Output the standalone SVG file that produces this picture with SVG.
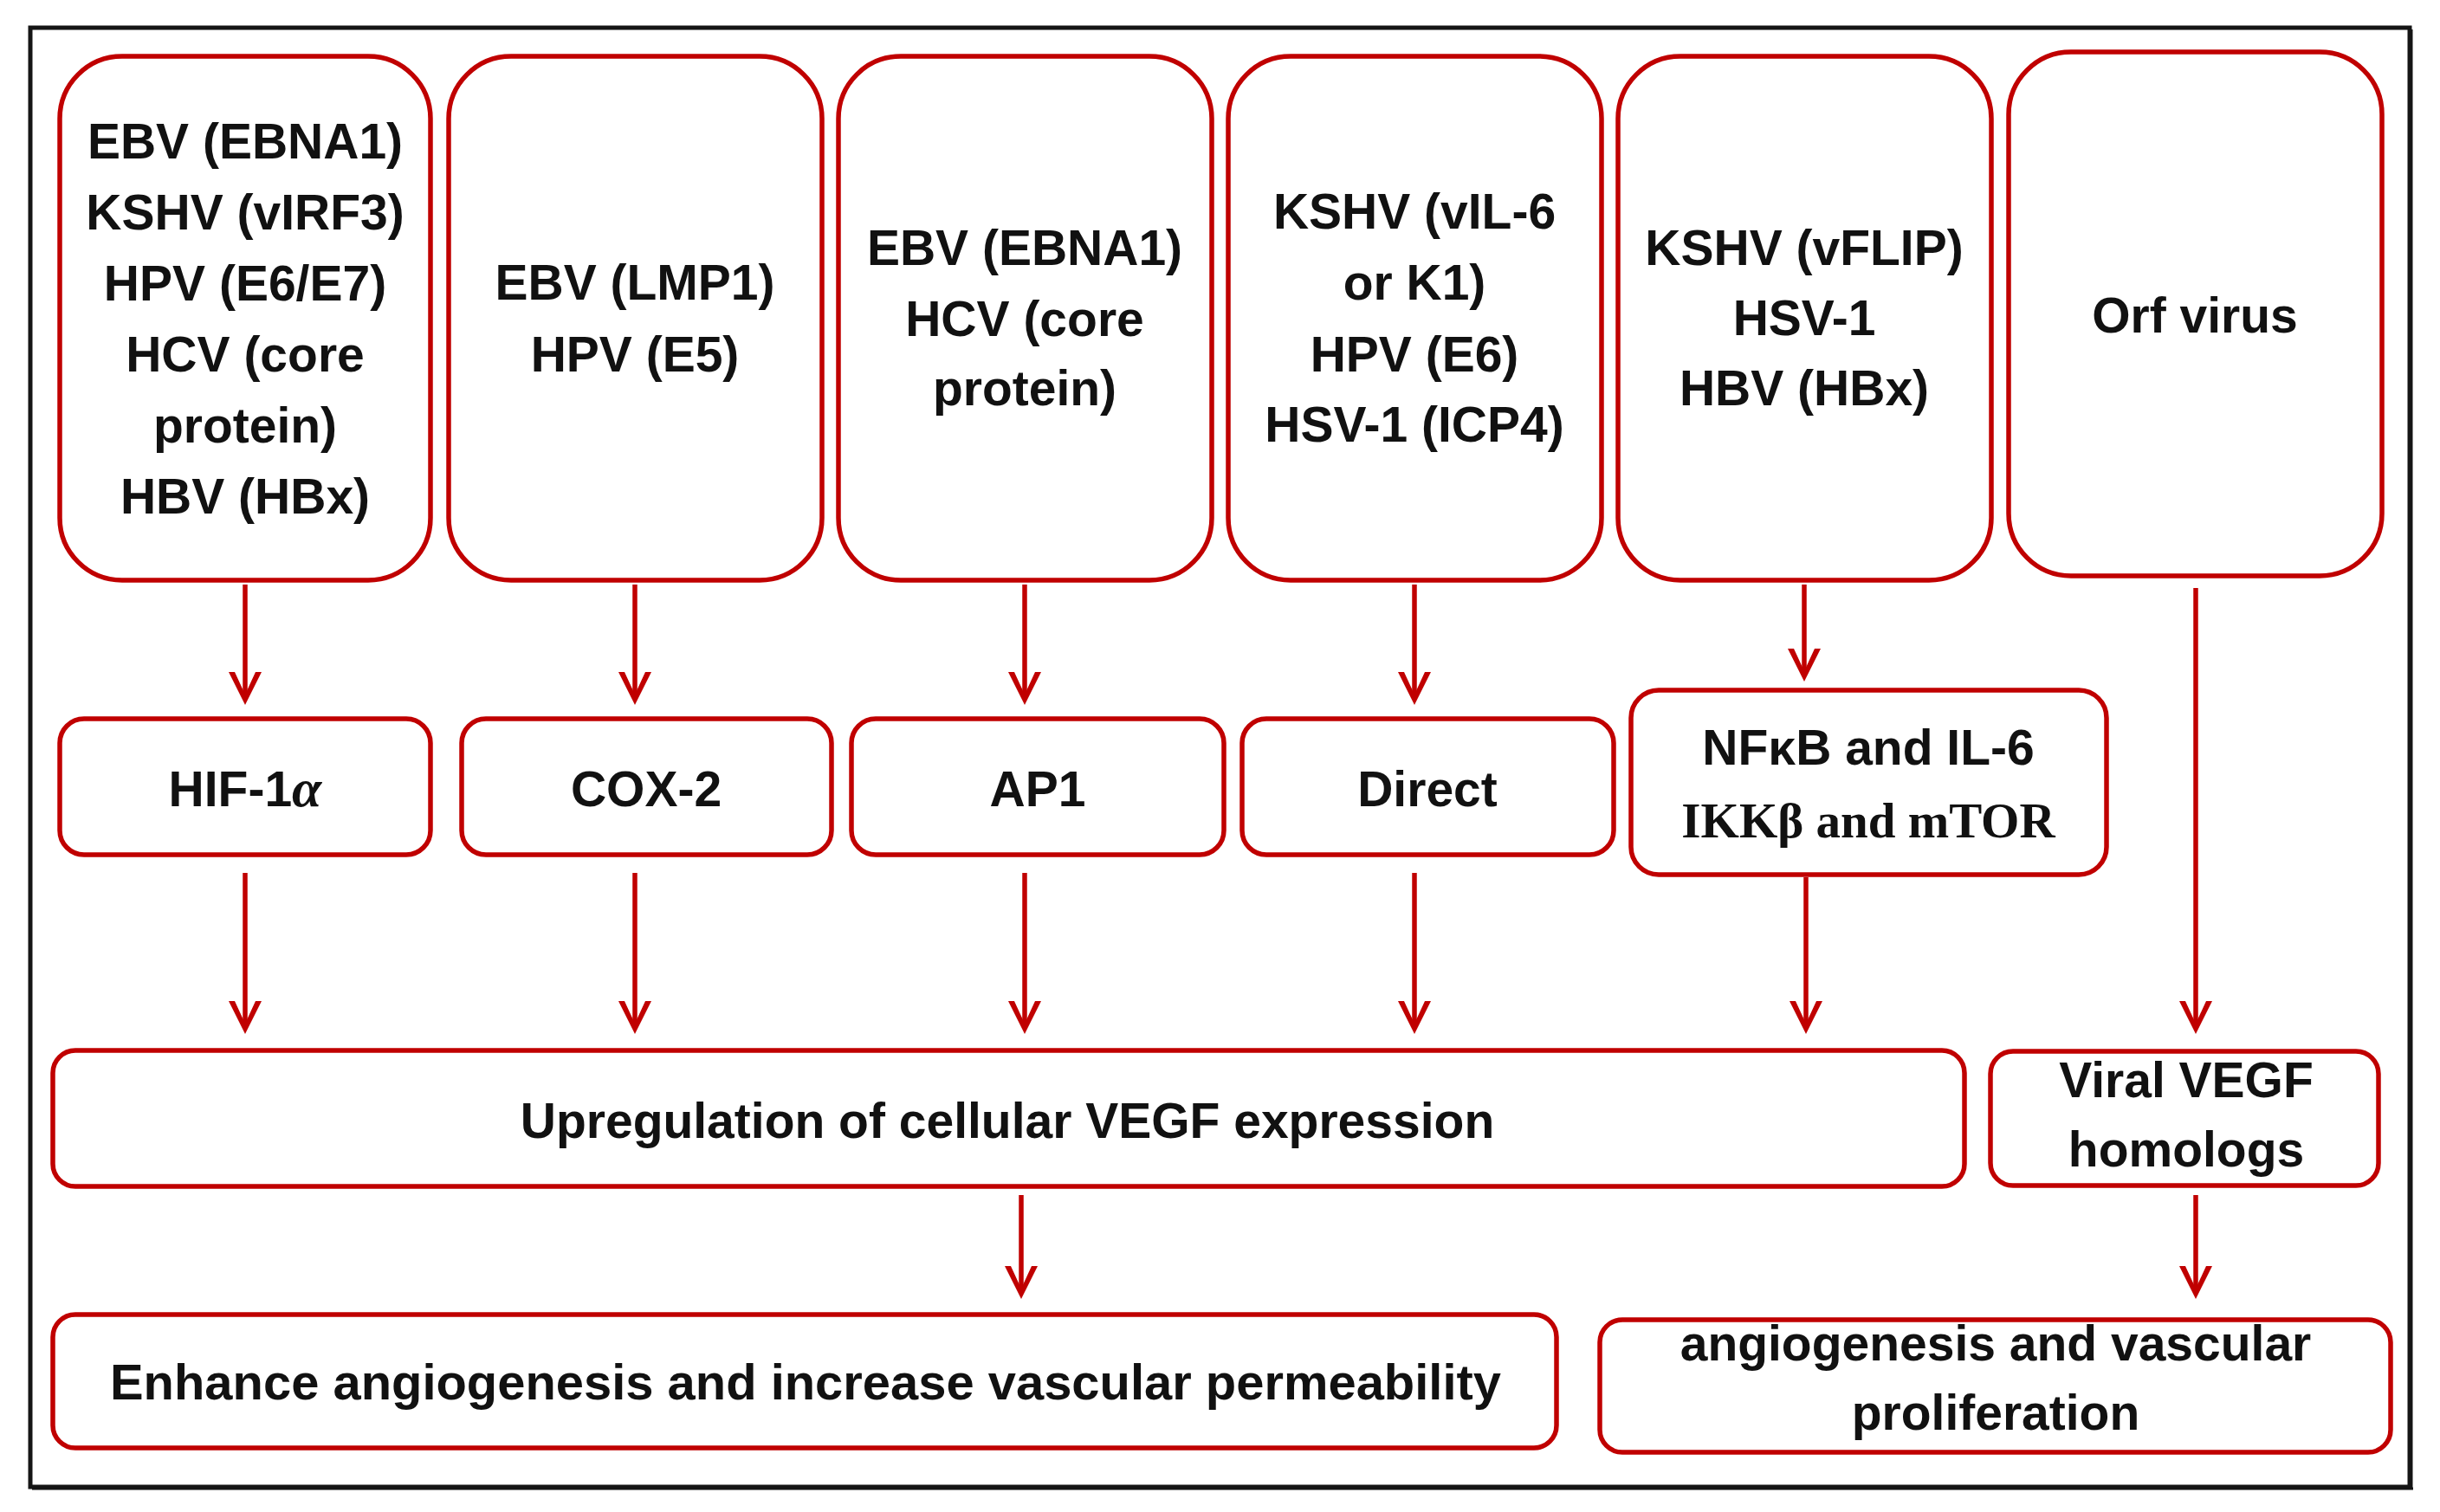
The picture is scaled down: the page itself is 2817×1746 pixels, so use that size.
<svg xmlns="http://www.w3.org/2000/svg" width="2817" height="1746" viewBox="0 0 2817 1746">
<style>
.box{fill:#ffffff;stroke:#c00000;stroke-width:5.5}
.t{font-family:"Liberation Sans",Arial,sans-serif;font-weight:bold;font-size:57px;fill:#111111;text-anchor:middle}
.s{font-family:"Liberation Serif","Times New Roman",serif;font-weight:bold}
.c{stroke:#c00000;stroke-width:5.5;fill:none}
</style>
<defs>
<marker id="ah" markerUnits="userSpaceOnUse" orient="auto" refX="0" refY="0" markerWidth="60" markerHeight="60" overflow="visible">
<path d="M10,0 L-28,-19 L-28,-12 L-2,0 L-28,12 L-28,19 Z" fill="#c00000"/>
</marker>
</defs>
<rect x="0" y="0" width="2817" height="1746" fill="#ffffff"/>
<rect x="35" y="32" width="2747" height="1685" fill="none" stroke="#151515" stroke-width="5"/>
<line x1="2784" y1="34" x2="2784" y2="1719" stroke="#151515" stroke-width="3"/>
<line x1="37" y1="1719" x2="2786" y2="1719" stroke="#151515" stroke-width="3"/>

<g id="n1"><rect class="box" x="69" y="65" width="428" height="605" rx="72"/>
<text class="t"><tspan x="283" y="183">EBV (EBNA1)</tspan><tspan x="283" y="265">KSHV (vIRF3)</tspan><tspan x="283" y="347">HPV (E6/E7)</tspan><tspan x="283" y="429">HCV (core</tspan><tspan x="283" y="511">protein)</tspan><tspan x="283" y="593">HBV (HBx)</tspan></text></g>
<g id="n2"><rect class="box" x="518" y="65" width="431" height="605" rx="72"/>
<text class="t"><tspan x="733" y="346">EBV (LMP1)</tspan><tspan x="733" y="429">HPV (E5)</tspan></text></g>
<g id="n3"><rect class="box" x="968" y="65" width="431" height="605" rx="72"/>
<text class="t"><tspan x="1183" y="306">EBV (EBNA1)</tspan><tspan x="1183" y="388">HCV (core</tspan><tspan x="1183" y="468">protein)</tspan></text></g>
<g id="n4"><rect class="box" x="1418" y="65" width="431" height="605" rx="72"/>
<text class="t"><tspan x="1633" y="264">KSHV (vIL-6</tspan><tspan x="1633" y="346">or K1)</tspan><tspan x="1633" y="429">HPV (E6)</tspan><tspan x="1633" y="510">HSV-1 (ICP4)</tspan></text></g>
<g id="n5"><rect class="box" x="1868" y="65" width="431" height="605" rx="72"/>
<text class="t"><tspan x="2083" y="306">KSHV (vFLIP)</tspan><tspan x="2083" y="387">HSV-1</tspan><tspan x="2083" y="468">HBV (HBx)</tspan></text></g>
<g id="n6"><rect class="box" x="2319" y="60" width="431" height="605" rx="72"/>
<text class="t" x="2534" y="384">Orf virus</text></g>

<g id="n7"><rect class="box" x="69" y="830" width="428" height="157" rx="28"/>
<text class="t" x="283" y="931">HIF-1<tspan class="s" font-style="italic" font-weight="normal" font-size="62">α</tspan></text></g>
<g id="n8"><rect class="box" x="533" y="830" width="427" height="157" rx="28"/>
<text class="t" x="746" y="931">COX-2</text></g>
<g id="n9"><rect class="box" x="983" y="830" width="430" height="157" rx="28"/>
<text class="t" x="1198" y="931">AP1</text></g>
<g id="n10"><rect class="box" x="1434" y="830" width="429" height="157" rx="28"/>
<text class="t" x="1648" y="931">Direct</text></g>
<g id="n11"><rect class="box" x="1883" y="797" width="549" height="213" rx="32"/>
<text class="t" x="2157" y="883">NFκB and IL-6</text>
<text class="t s" x="2157" y="967" font-size="64">IKKβ and mTOR</text></g>

<g id="n12"><rect class="box" x="61" y="1213" width="2207" height="157" rx="26"/>
<text class="t" x="1163" y="1314">Upregulation of cellular VEGF expression</text></g>
<g id="n13"><rect class="box" x="2298" y="1214" width="448" height="155" rx="26"/>
<text class="t"><tspan x="2524" y="1267">Viral VEGF</tspan><tspan x="2524" y="1347">homologs</tspan></text></g>

<g id="n14"><rect class="box" x="61" y="1518" width="1736" height="154" rx="26"/>
<text class="t" x="930" y="1616" textLength="1606" lengthAdjust="spacingAndGlyphs">Enhance angiogenesis and increase vascular permeability</text></g>
<g id="n15"><rect class="box" x="1847" y="1524" width="913" height="153" rx="26"/>
<text class="t"><tspan x="2304" y="1571">angiogenesis and vascular</tspan><tspan x="2304" y="1651">proliferation</tspan></text></g>

<g id="connectors">
<line class="c" x1="283" y1="675" x2="283" y2="804" marker-end="url(#ah)"/>
<line class="c" x1="733" y1="675" x2="733" y2="804" marker-end="url(#ah)"/>
<line class="c" x1="1183" y1="675" x2="1183" y2="804" marker-end="url(#ah)"/>
<line class="c" x1="1633" y1="675" x2="1633" y2="804" marker-end="url(#ah)"/>
<line class="c" x1="2083" y1="675" x2="2083" y2="777" marker-end="url(#ah)"/>
<line class="c" x1="2535" y1="679" x2="2535" y2="1184" marker-end="url(#ah)"/>
<line class="c" x1="283" y1="1008" x2="283" y2="1184" marker-end="url(#ah)"/>
<line class="c" x1="733" y1="1008" x2="733" y2="1184" marker-end="url(#ah)"/>
<line class="c" x1="1183" y1="1008" x2="1183" y2="1184" marker-end="url(#ah)"/>
<line class="c" x1="1633" y1="1008" x2="1633" y2="1184" marker-end="url(#ah)"/>
<line class="c" x1="2085" y1="1013" x2="2085" y2="1184" marker-end="url(#ah)"/>
<line class="c" x1="1179" y1="1380" x2="1179" y2="1490" marker-end="url(#ah)"/>
<line class="c" x1="2535" y1="1380" x2="2535" y2="1490" marker-end="url(#ah)"/>
</g>
</svg>
